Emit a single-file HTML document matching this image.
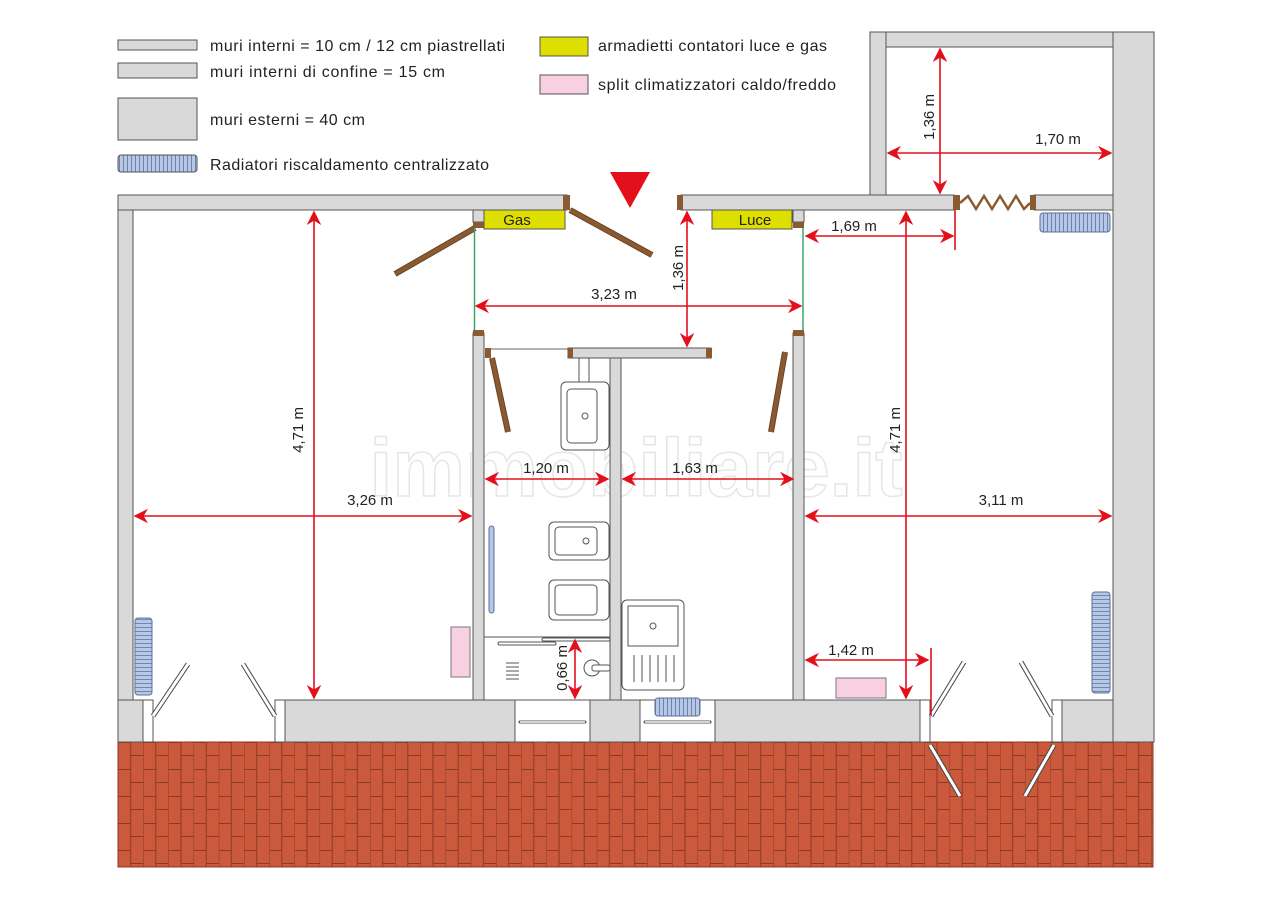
<!DOCTYPE html>
<html><head><meta charset="utf-8"><style>
body{margin:0;background:#fff}
svg{display:block}
text{font-family:"Liberation Sans",sans-serif;fill:#222}
</style></head><body>
<svg width="1272" height="900" viewBox="0 0 1272 900" xmlns="http://www.w3.org/2000/svg">
<defs>
<pattern id="brick" x="118" y="742" width="25.2" height="27" patternUnits="userSpaceOnUse">
<rect width="25.2" height="27" fill="#cb5a3d"/>
<line x1="0" y1="0" x2="0" y2="27" stroke="#8d3a24" stroke-width="1"/>
<line x1="12.6" y1="0" x2="12.6" y2="27" stroke="#8d3a24" stroke-width="1"/>
<line x1="0" y1="0.5" x2="12.6" y2="0.5" stroke="#8d3a24" stroke-width="1"/>
<line x1="12.6" y1="13.5" x2="25.2" y2="13.5" stroke="#8d3a24" stroke-width="1"/>
</pattern>
<pattern id="radh" width="4" height="20" patternUnits="userSpaceOnUse"><rect width="4" height="20" fill="#b7c8e6"/><line x1="3.5" y1="0" x2="3.5" y2="20" stroke="#5a6f9a" stroke-width="0.8"/></pattern>
<pattern id="radv" width="20" height="4" patternUnits="userSpaceOnUse"><rect width="20" height="4" fill="#b7c8e6"/><line x1="0" y1="3.5" x2="20" y2="3.5" stroke="#5a6f9a" stroke-width="0.8"/></pattern>
<marker id="a" viewBox="0 0 10 10" refX="9" refY="5" markerWidth="9" markerHeight="9" orient="auto-start-reverse"><path d="M0,0 L10,5 L0,10 L3,5 z" fill="#e3101c"/></marker>
</defs>

<!-- legend -->
<g stroke="#555" stroke-width="1" fill="#d9d9d9">
<rect x="118" y="40" width="79" height="10"/>
<rect x="118" y="63" width="79" height="15"/>
<rect x="118" y="98" width="79" height="42"/>
<rect x="118" y="155" width="79" height="17" fill="url(#radh)" rx="3"/>
<rect x="540" y="37" width="48" height="19" fill="#dede00"/>
<rect x="540" y="75" width="48" height="19" fill="#f9d0e2"/>
</g>
<g font-size="16">
<text x="210" y="51" textLength="295">muri interni = 10 cm / 12 cm piastrellati</text>
<text x="210" y="77" textLength="235">muri interni di confine  = 15 cm</text>
<text x="210" y="125" textLength="155">muri esterni = 40 cm</text>
<text x="210" y="170" textLength="279">Radiatori riscaldamento centralizzato</text>
<text x="598" y="51" textLength="229">armadietti contatori luce e gas</text>
<text x="598" y="90" textLength="238">split climatizzatori caldo/freddo</text>
</g>

<!-- brick -->
<rect x="118" y="742" width="1035" height="125" fill="url(#brick)" stroke="#8d3a24"/>

<!-- watermark -->
<text x="636" y="496" font-size="82" font-weight="bold" text-anchor="middle" fill="#fff" stroke="#e6e6e6" stroke-width="1.5" style="fill:#fff">immobiliare.it</text>

<!-- walls -->
<g fill="#d9d9d9" stroke="#555" stroke-width="1">
<rect x="118" y="195" width="449" height="15"/>
<rect x="681" y="195" width="273" height="15"/>
<rect x="1034" y="195" width="79" height="15"/>
<rect x="870" y="32" width="243" height="15"/>
<rect x="870" y="32" width="16" height="163"/>
<rect x="1113" y="32" width="41" height="710"/>
<rect x="118" y="210" width="15" height="490"/>
<rect x="473" y="333" width="11" height="367"/>
<rect x="610" y="358" width="11" height="342"/>
<rect x="793" y="333" width="11" height="367"/>
<rect x="568" y="348" width="143" height="10"/>
<rect x="473" y="210" width="11" height="12"/>
<rect x="793" y="210" width="11" height="12"/>
<rect x="118" y="700" width="25" height="42"/>
<rect x="285" y="700" width="230" height="42"/>
<rect x="590" y="700" width="50" height="42"/>
<rect x="715" y="700" width="205" height="42"/>
<rect x="1062" y="700" width="51" height="42"/>
</g>
<g fill="#fff" stroke="#555">
<rect x="515" y="700" width="75" height="42"/>
<rect x="640" y="700" width="75" height="42"/>
<rect x="143" y="700" width="10" height="42"/><rect x="275" y="700" width="10" height="42"/>
<rect x="920" y="700" width="10" height="42"/><rect x="1052" y="700" width="10" height="42"/>
</g>
<g stroke="#555" stroke-width="3" stroke-linecap="round"><line x1="520" y1="722" x2="585" y2="722"/><line x1="645" y1="722" x2="710" y2="722"/></g>
<g stroke="#fff" stroke-width="1.5"><line x1="520" y1="722" x2="585" y2="722"/><line x1="645" y1="722" x2="710" y2="722"/></g>

<g fill="#8a5a32">
<rect x="563" y="195" width="7" height="15"/><rect x="677" y="195" width="6" height="15"/>
<rect x="953" y="195" width="7" height="15"/><rect x="1030" y="195" width="6" height="15"/>
<rect x="473" y="222" width="11" height="6"/><rect x="793" y="222" width="11" height="6"/>
<rect x="473" y="330" width="11" height="6"/><rect x="793" y="330" width="11" height="6"/>
<rect x="485" y="348" width="6" height="10"/><rect x="568" y="348" width="5" height="10"/><rect x="706" y="348" width="6" height="10"/>
</g>
<polyline points="960,203 968,196 976,209 984,196 992,209 1000,196 1008,209 1016,196 1024,209 1030,203" fill="none" stroke="#8a5a32" stroke-width="2.5"/>
<g stroke="#6b4423" stroke-width="6">
<line x1="475" y1="228" x2="395" y2="274"/>
<line x1="570" y1="210" x2="652" y2="255"/>
<line x1="492" y1="358" x2="508" y2="432"/>
<line x1="785" y1="352" x2="771" y2="432"/>
</g>
<g stroke="#8a5a32" stroke-width="4"><line x1="475" y1="228" x2="395" y2="274"/><line x1="570" y1="210" x2="652" y2="255"/><line x1="492" y1="358" x2="508" y2="432"/><line x1="785" y1="352" x2="771" y2="432"/></g>
<line x1="491" y1="349" x2="568" y2="349" stroke="#666" stroke-width="1"/>
<line x1="474.5" y1="228" x2="474.5" y2="330" stroke="#3aa56a" stroke-width="1.5"/>
<line x1="803" y1="228" x2="803" y2="330" stroke="#3aa56a" stroke-width="1.5"/>

<rect x="484" y="210" width="81" height="19" fill="#dede00" stroke="#555"/>
<rect x="712" y="210" width="80" height="19" fill="#dede00" stroke="#555"/>
<text x="517" y="225" font-size="15" text-anchor="middle">Gas</text>
<text x="755" y="225" font-size="15" text-anchor="middle">Luce</text>

<polygon points="610,172 650,172 630,208" fill="#e3101c"/>

<g stroke="#444" stroke-width="5">
<line x1="153" y1="716" x2="188" y2="664"/><line x1="275" y1="716" x2="243" y2="664"/>
<line x1="931" y1="716" x2="964" y2="662"/><line x1="1052" y1="716" x2="1021" y2="662"/>
<line x1="930" y1="745" x2="960" y2="796"/><line x1="1054" y1="745" x2="1025" y2="796"/>
</g>
<g stroke="#fff" stroke-width="3">
<line x1="153" y1="716" x2="188" y2="664"/><line x1="275" y1="716" x2="243" y2="664"/>
<line x1="931" y1="716" x2="964" y2="662"/><line x1="1052" y1="716" x2="1021" y2="662"/>
<line x1="930" y1="745" x2="960" y2="796"/><line x1="1054" y1="745" x2="1025" y2="796"/>
</g>

<g stroke="#5a6f9a" stroke-width="1">
<rect x="1040" y="213" width="70" height="19" rx="3" fill="url(#radh)"/>
<rect x="655" y="698" width="45" height="18" rx="3" fill="url(#radh)"/>
<rect x="135" y="618" width="17" height="77" rx="3" fill="url(#radv)"/>
<rect x="1092" y="592" width="18" height="101" rx="3" fill="url(#radv)"/>
</g>
<rect x="451" y="627" width="19" height="50" fill="#f9d0e2" stroke="#777"/>
<rect x="836" y="678" width="50" height="20" fill="#f9d0e2" stroke="#777"/>

<g fill="#fff" stroke="#555" stroke-width="1">
<rect x="579" y="358" width="10" height="24"/>
<rect x="561" y="382" width="48" height="68" rx="5"/><rect x="567" y="389" width="30" height="54" rx="4"/>
<circle cx="585" cy="416" r="3"/>
<rect x="549" y="522" width="60" height="38" rx="5"/><rect x="555" y="527" width="42" height="28" rx="4"/><circle cx="586" cy="541" r="3"/>
<rect x="549" y="580" width="60" height="40" rx="5"/><rect x="555" y="585" width="42" height="30" rx="4"/>
<line x1="484" y1="637" x2="610" y2="637"/>
<rect x="498" y="642" width="58" height="3" rx="1.5"/><rect x="542" y="638" width="68" height="3" rx="1.5"/>
<circle cx="592" cy="668" r="8"/><rect x="592" y="665" width="18" height="6" rx="2"/>
<rect x="622" y="600" width="62" height="90" rx="5"/><rect x="628" y="606" width="50" height="40"/><circle cx="653" cy="626" r="3"/>
</g>
<g stroke="#555"><line x1="506" y1="663" x2="519" y2="663"/><line x1="506" y1="667" x2="519" y2="667"/><line x1="506" y1="671" x2="519" y2="671"/><line x1="506" y1="675" x2="519" y2="675"/><line x1="506" y1="679" x2="519" y2="679"/>
<line x1="634" y1="655" x2="634" y2="682"/><line x1="642" y1="655" x2="642" y2="682"/><line x1="650" y1="655" x2="650" y2="682"/><line x1="658" y1="655" x2="658" y2="682"/><line x1="666" y1="655" x2="666" y2="682"/><line x1="674" y1="655" x2="674" y2="682"/></g>
<rect x="489" y="526" width="5" height="87" rx="2.5" fill="#b7c8e6" stroke="#5a6f9a"/>

<g stroke="#e3101c" stroke-width="1.6" fill="none" marker-start="url(#a)" marker-end="url(#a)">
<line x1="314" y1="212" x2="314" y2="698"/>
<line x1="135" y1="516" x2="471" y2="516"/>
<line x1="476" y1="306" x2="801" y2="306"/>
<line x1="687" y1="212" x2="687" y2="346"/>
<line x1="486" y1="479" x2="608" y2="479"/>
<line x1="623" y1="479" x2="793" y2="479"/>
<line x1="906" y1="212" x2="906" y2="698"/>
<line x1="806" y1="516" x2="1111" y2="516"/>
<line x1="806" y1="236" x2="953" y2="236"/>
<line x1="940" y1="49" x2="940" y2="193"/>
<line x1="888" y1="153" x2="1111" y2="153"/>
<line x1="806" y1="660" x2="928" y2="660"/>
<line x1="575" y1="640" x2="575" y2="698"/>
</g>
<g stroke="#e3101c" stroke-width="1.6"><line x1="955" y1="210" x2="955" y2="250"/><line x1="931" y1="648" x2="931" y2="716"/></g>

<g font-size="15">
<text x="370" y="505" text-anchor="middle">3,26 m</text>
<text x="614" y="299" text-anchor="middle">3,23 m</text>
<text x="546" y="473" text-anchor="middle">1,20 m</text>
<text x="695" y="473" text-anchor="middle">1,63 m</text>
<text x="1001" y="505" text-anchor="middle">3,11 m</text>
<text x="854" y="231" text-anchor="middle">1,69 m</text>
<text x="1058" y="144" text-anchor="middle">1,70 m</text>
<text x="851" y="655" text-anchor="middle">1,42 m</text>
<text transform="translate(303,430) rotate(-90)" text-anchor="middle">4,71 m</text>
<text transform="translate(900,430) rotate(-90)" text-anchor="middle">4,71 m</text>
<text transform="translate(683,268) rotate(-90)" text-anchor="middle">1,36 m</text>
<text transform="translate(934,117) rotate(-90)" text-anchor="middle">1,36 m</text>
<text transform="translate(567,668) rotate(-90)" text-anchor="middle">0,66 m</text>
</g>
</svg>
</body></html>
